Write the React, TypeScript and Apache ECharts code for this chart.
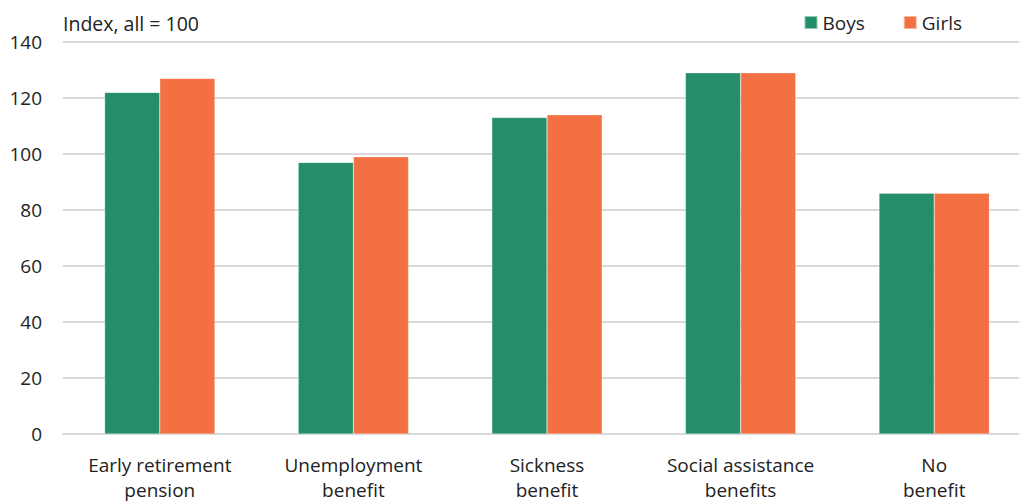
import React, { useEffect, useRef } from "react";
import * as echarts from "echarts";

const categories = [
  "Early retirement\npension",
  "Unemployment\nbenefit",
  "Sickness\nbenefit",
  "Social assistance\nbenefits",
  "No\nbenefit",
];
const boys = [122, 97, 113, 129, 86];
const girls = [127, 99, 114, 129, 86];
const yTicks = { min: 0, max: 140, interval: 20 };

const FONT = "'Open Sans', sans-serif";

export default function App() {
  const ref = useRef<HTMLDivElement>(null);
  useEffect(() => {
    if (!ref.current) return;
    const chart = echarts.init(ref.current, undefined, { renderer: "svg" });
    chart.setOption({
      animation: false,
      textStyle: { fontFamily: FONT },
      grid: { left: 63, right: 0, top: 42, bottom: 67, containLabel: false },
      title: {
        text: "Index, all = 100",
        left: 58,
        top: 8,
        textStyle: { fontFamily: FONT, fontSize: 19.5, fontWeight: "normal", color: "#222" },
      },
      legend: {
        right: 64,
        top: 8,
        itemWidth: 13,
        itemHeight: 13,
        itemGap: 38,
        icon: "rect",
        textStyle: { fontFamily: FONT, fontSize: 19, color: "#222" },
        data: ["Boys", "Girls"],
      },
      xAxis: {
        type: "category",
        data: categories,
        axisLine: { lineStyle: { color: "#d9d9d9", width: 2 } },
        axisTick: { show: false },
        axisLabel: {
          fontFamily: FONT,
          fontSize: 19,
          color: "#222",
          lineHeight: 25,
          margin: 18,
          interval: 0,
        },
      },
      yAxis: {
        type: "value",
        min: yTicks.min,
        max: yTicks.max,
        interval: yTicks.interval,
        axisLine: { show: false },
        axisTick: { show: false },
        axisLabel: { fontFamily: FONT, fontSize: 19, color: "#222", margin: 21 },
        splitLine: { lineStyle: { color: "#d9d9d9", width: 2 } },
      },
      series: [
        {
          name: "Boys",
          type: "bar",
          data: boys,
          barGap: "0%",
          barCategoryGap: "43%",
          itemStyle: { color: "#238E68", borderColor: "rgba(255,255,255,0.5)", borderWidth: 0.5 },
        },
        {
          name: "Girls",
          type: "bar",
          data: girls,
          barGap: "0%",
          barCategoryGap: "43%",
          itemStyle: { color: "#F37043", borderColor: "rgba(255,255,255,0.5)", borderWidth: 0.5 },
        },
      ],
    });
    return () => chart.dispose();
  }, []);
  return (
    <div style={{ position: "absolute", left: 0, top: 0, width: 1019, height: 502, overflow: "hidden" }}>
      <div ref={ref} style={{ width: 1031, height: 502 }} />
    </div>
  );
}
